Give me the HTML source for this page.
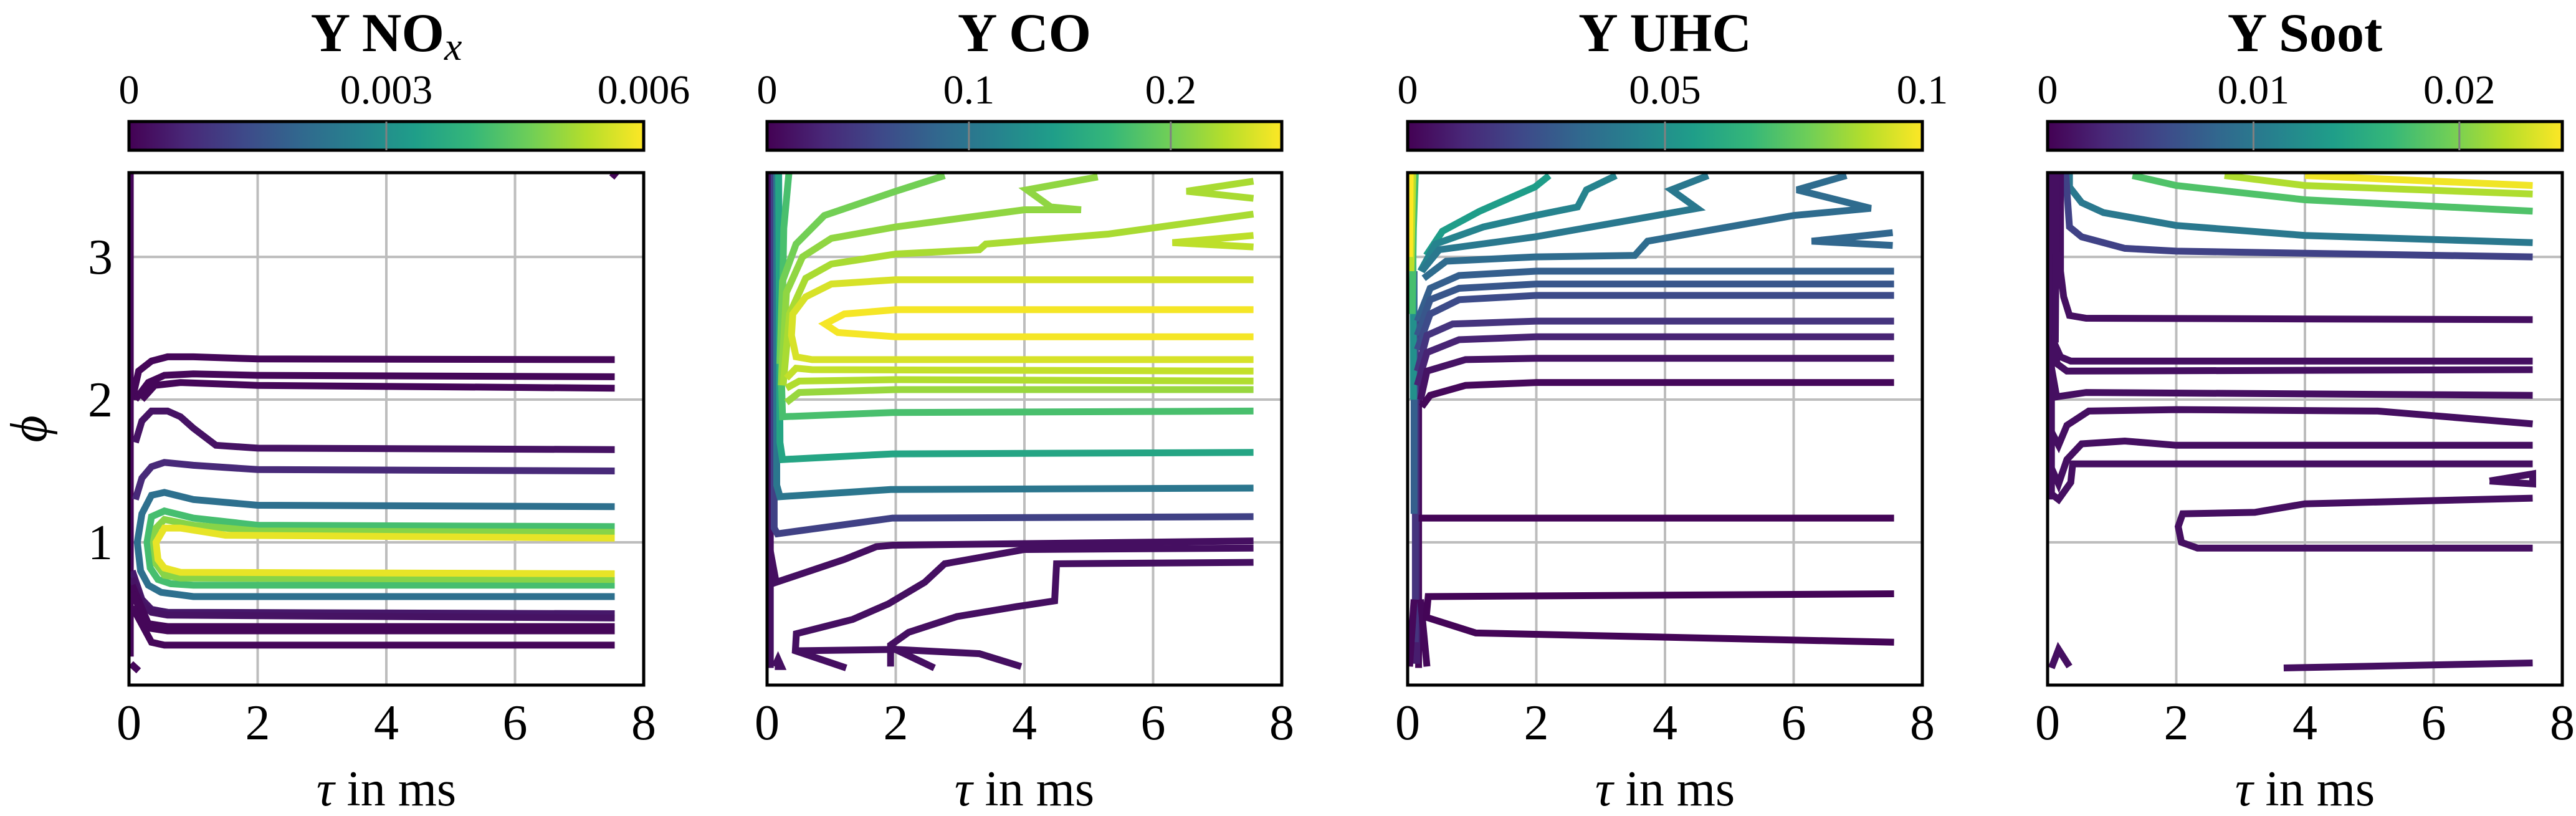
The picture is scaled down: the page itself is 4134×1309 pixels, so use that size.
<!DOCTYPE html>
<html><head><meta charset="utf-8"><style>
html,body{margin:0;padding:0;background:#fff}
svg{display:block}
text{font-family:"Liberation Serif",serif;fill:#000}
</style></head><body>
<svg id="chart" width="4134" height="1309" viewBox="0 0 4134 1309" xmlns="http://www.w3.org/2000/svg">
<defs id="defs"></defs>
</svg>
<script>
// ---------- data ----------
const panelTitles = ["Y NOx", "Y CO", "Y UHC", "Y Soot"];
const cbarMax = [0.006, 0.255, 0.1, 0.025];
const cbarTicks = [[0, 0.003, 0.006], [0, 0.1, 0.2], [0, 0.05, 0.1], [0, 0.01, 0.02]];
const cbarTickLabels = [["0", "0.003", "0.006"], ["0", "0.1", "0.2"], ["0", "0.05", "0.1"], ["0", "0.01", "0.02"]];
const xTicks = [0, 2, 4, 6, 8];
const yTicks = [1, 2, 3];

// NOx contours
const noxLevels = [0.0001,0.0001,0.0001,0.0001,0.0003,0.0007,0.0022,0.0042,0.0049,0.0058,0.0004,0.0003,0.0001,0.0001,0.0001,0.0001,0.0001];
const noxTau = [[0.02,0.02],[0.05,0.15,0.35,0.6,1,2,7.55],[0.1,0.3,0.55,1,2,7.55],[0.2,0.4,0.8,2,7.55],[0.1,0.2,0.35,0.6,0.8,1.0,1.35,2,7.55],[0.1,0.2,0.35,0.55,1,2,7.55],[7.55,2,1,0.55,0.35,0.2,0.13,0.18,0.3,0.5,1,7.55],[7.55,2,1,0.55,0.35,0.28,0.33,0.45,0.65,1,7.55],[7.55,2,1,0.55,0.42,0.38,0.42,0.55,0.8,7.55],[7.55,1.5,0.8,0.55,0.42,0.45,0.55,0.8,7.55],[0.05,0.2,0.35,0.6,7.55],[0.05,0.2,0.35,0.6,7.55],[0.05,0.3,0.6,7.55],[0.05,0.3,0.6,7.55],[0.05,0.35,0.55,7.55],[0.03,0.15],[7.5,7.58]];
const noxPhi = [[0.2,3.59],[2.0,2.2,2.27,2.3,2.3,2.285,2.28],[2.0,2.12,2.17,2.18,2.17,2.16],[2.0,2.1,2.12,2.1,2.08],[1.7,1.85,1.92,1.92,1.88,1.8,1.68,1.66,1.65],[1.3,1.45,1.53,1.56,1.54,1.51,1.50],[1.25,1.26,1.3,1.35,1.33,1.2,1.0,0.8,0.7,0.65,0.62,0.62],[1.11,1.12,1.17,1.22,1.18,1.0,0.82,0.74,0.71,0.70,0.70],[1.07,1.08,1.12,1.16,1.1,1.0,0.85,0.77,0.75,0.74],[1.03,1.05,1.1,1.1,1.0,0.88,0.82,0.79,0.78],[0.8,0.6,0.53,0.51,0.50],[0.75,0.57,0.51,0.49,0.47],[0.7,0.43,0.41,0.41],[0.65,0.4,0.38,0.38],[0.55,0.3,0.28,0.28],[0.15,0.1],[3.59,3.56]];

// CO contours
const coLevels = [0.01,0.05,0.1,0.15,0.18,0.2,0.212,0.222,0.222,0.23,0.24,0.252,0.232,0.225,0.215,0.01,0.01,0.01,0.01,0.01,0.01];
const coTau = [[0.05,0.05],[0.11,0.11,0.16,1.95,7.56],[0.15,0.15,0.2,1.92,7.56],[0.18,0.2,0.24,1.95,7.56],[0.34,0.26,0.22,0.24,1.95,7.56],[0.2,0.24,0.45,0.89,2,2.76],[0.22,0.3,0.55,1,2,4,4.88,4.41,4.04,5.14],[0.25,0.35,0.6,1,2,3.3,3.4,5.3,7.56],[7.56,6.52,7.56],[7.56,6.3,7.56],[7.56,2,1,0.6,0.4,0.38,0.45,0.7,7.56],[7.56,2,1.2,0.9,1.1,2,7.56],[0.3,0.45,0.7,7.56],[0.3,0.5,2,7.56],[0.3,0.5,2,7.56],[0.05,0.14,1.2,1.7,1.95,7.56],[7.56,4,2.76,2.45,1.89,1.33,0.455,0.44,1.23],[7.56,4.5,4.47,3.88,2.95,2.2,1.92,1.92],[1.95,2.6],[0.44,2,3.3,3.95],[0.12,0.17,0.22,0.12]];
const coPhi = [[3.59,0.12],[3.59,1.1,1.06,1.17,1.18],[3.59,1.4,1.32,1.37,1.38],[3.59,1.7,1.58,1.62,1.63],[3.59,3.2,2.2,1.88,1.91,1.92],[2.25,2.83,3.09,3.29,3.46,3.57],[2.1,2.75,3.0,3.13,3.21,3.33,3.33,3.35,3.47,3.56],[2.1,2.6,2.85,2.95,3.02,3.05,3.09,3.16,3.30],[3.53,3.46,3.41],[3.15,3.1,3.07],[2.84,2.84,2.81,2.72,2.6,2.45,2.3,2.28,2.28],[2.63,2.63,2.6,2.53,2.47,2.44,2.44],[2.15,2.22,2.21,2.2],[2.08,2.13,2.14,2.13],[1.98,2.05,2.07,2.07],[0.94,0.72,0.88,0.97,0.98,1.01],[0.96,0.95,0.85,0.72,0.57,0.46,0.36,0.24,0.12],[0.86,0.85,0.59,0.55,0.48,0.37,0.28,0.13],[0.26,0.12],[0.24,0.25,0.22,0.13],[0.13,0.18,0.13,0.13]];

// UHC contours
const uhcLevels = [0.002,0.008,0.015,0.03,0.05,0.07,0.09,0.1,0.002,0.002,0.055,0.045,0.04,0.035,0.033,0.03,0.027,0.023,0.015,0.01,0.005,0.002,0.001,0.001];
const uhcTau = [[0.17,0.17],[0.14,0.14],[0.12,0.12],[0.1,0.1],[0.09,0.08],[0.12,0.09,0.07],[0.08,0.05],[0.04,0.03],[0.03,0.1],[0.3,0.2],[0.29,0.54,1.12,1.98,2.2],[0.2,0.43,1.18,1.98,2.64,2.78,3.24],[0.22,0.49,1.98,4.5,4.1,4.67],[0.25,0.6,1.98,3.53,3.73,6,7.2,6.05,6.82],[7.54,6.28,7.54],[0.15,0.35,0.8,2,7.56],[0.15,0.35,0.8,2,7.56],[0.15,0.35,0.8,2,7.56],[0.15,0.3,0.7,2,7.56],[0.15,0.3,0.8,2,7.56],[0.2,0.3,0.9,2,7.56],[0.22,0.35,0.9,2,7.56],[0.17,7.56],[7.56,0.32,0.29,1.06,7.56]];
const uhcPhi = [[0.12,2.0],[0.15,2.3],[0.3,2.6],[1.2,2.9],[2.0,3.3],[3.59,3.2,2.6],[3.59,2.9],[3.59,3.0],[0.13,0.6],[0.13,0.6],[3.01,3.18,3.32,3.49,3.57],[2.9,3.09,3.21,3.29,3.35,3.47,3.57],[2.9,3.05,3.14,3.34,3.47,3.57],[2.85,2.97,3.0,3.01,3.11,3.29,3.34,3.47,3.57],[3.17,3.11,3.08],[2.55,2.78,2.87,2.9,2.9],[2.45,2.7,2.78,2.81,2.81],[2.35,2.6,2.7,2.73,2.73],[2.2,2.45,2.53,2.55,2.55],[2.1,2.33,2.42,2.44,2.44],[2.0,2.2,2.28,2.29,2.29],[1.95,2.03,2.1,2.12,2.12],[1.17,1.17],[0.64,0.62,0.475,0.365,0.30]];

// Soot contours
const sootLevels = [0.0245,0.022,0.018,0.01,0.005,0.001,0.001,0.001,0.001,0.001,0.001,0.001,0.001,0.001,0.001,0.001,0.001,0.001];
const sootTau = [[4,7.54],[2.75,4,7.54],[1.32,2,4,7.54],[0.34,0.34,0.53,0.87,2,4,7.54],[0.28,0.34,0.53,1.2,2,7.54],[0.2,0.2,0.25,0.34,0.6,7.54],[0.06,0.2,0.36,7.54],[0.06,0.15,0.3,7.54],[0.03,0.14,0.6,7.54],[0.03,0.17,0.3,0.64,2,5.13,7.54],[0.03,0.17,0.3,0.53,1.2,2,7.54],[0.03,0.17,0.36,0.39,7.54],[6.87,7.54,7.54,6.87],[7.54,4,3.22,2.1,2.03,2.08,2.33,7.54],[3.67,7.54],[0.06,0.17,0.34],[0.06,0.06],[0.12,0.14]];
const sootPhi = [[3.57,3.5],[3.57,3.5,3.44],[3.57,3.5,3.4,3.32],[3.59,3.49,3.38,3.31,3.22,3.15,3.1],[3.59,3.21,3.14,3.06,3.04,3.0],[3.59,2.9,2.72,2.59,2.57,2.56],[2.44,2.3,2.27,2.27],[2.45,2.25,2.2,2.21],[2.3,2.02,2.05,2.03],[1.8,1.68,1.82,1.92,1.93,1.92,1.83],[1.55,1.41,1.58,1.69,1.71,1.68,1.68],[1.35,1.3,1.42,1.55,1.55],[1.43,1.48,1.41,1.43],[1.31,1.27,1.21,1.2,1.11,1.0,0.96,0.96],[0.12,0.155],[0.12,0.25,0.13],[1.3,3.59],[2.4,3.59]];

const allLevels = [noxLevels, coLevels, uhcLevels, sootLevels];
const allTau = [noxTau, coTau, uhcTau, sootTau];
const allPhi = [noxPhi, coPhi, uhcPhi, sootPhi];

// ---------- layout ----------
const panelX = [207, 1231, 2259, 3286];
const PW = 826, PTOP = 277, PBOT = 1099, XMAX = 8, YMAX = 3.59;
const CB_TOP = 195, CB_H = 46;
const VIR = ["#440154","#482878","#3e4989","#31688e","#26828e","#1f9e89","#35b779","#6ece58","#b5de2b","#fde725"];

function hex2rgb(h){return [parseInt(h.slice(1,3),16),parseInt(h.slice(3,5),16),parseInt(h.slice(5,7),16)];}
function viridis(t){
  t=Math.max(0,Math.min(1,t));
  const s=t*(VIR.length-1), i=Math.min(VIR.length-2,Math.floor(s)), f=s-i;
  const a=hex2rgb(VIR[i]), b=hex2rgb(VIR[i+1]);
  return "rgb("+a.map((v,k)=>Math.round(v+(b[k]-v)*f)).join(",")+")";
}
const NS="http://www.w3.org/2000/svg";
const svg=document.getElementById("chart");
const defs=document.getElementById("defs");
function mk(tag, attrs, parent){
  const e=document.createElementNS(NS,tag);
  for(const k in attrs) e.setAttribute(k, attrs[k]);
  (parent||svg).appendChild(e);
  return e;
}

const grad=mk("linearGradient",{id:"vir",x1:"0",x2:"1",y1:"0",y2:"0"},defs);
VIR.forEach((c,i)=>mk("stop",{offset:(i/(VIR.length-1)).toString(),"stop-color":c},grad));

for(let p=0;p<4;p++){
  const x0=panelX[p];
  const xs=v=>x0+v/XMAX*PW;
  const ys=v=>PBOT-v/YMAX*(PBOT-PTOP);
  const g=mk("g",{});
  
  

  const t=mk("text",{x:x0+PW/2,y:82,"text-anchor":"middle","font-size":"88","font-weight":"bold"},g);
  
  
  if(p===0){
    t.textContent="Y NO";
    const ts=mk("tspan",{"font-style":"italic","font-weight":"normal","dy":"14","font-size":"64"},t);
    ts.textContent="x";
  } else t.textContent=panelTitles[p];

  const cb=mk("rect",{x:x0,y:CB_TOP,width:PW,height:CB_H,fill:"url(#vir)",stroke:"#000","stroke-width":"5"},g);
  
  
  cbarTicks[p].forEach((v,i)=>{
    const cx=x0+v/cbarMax[p]*PW;
    if(v>0 && v<cbarMax[p]){
      const tk=mk("line",{x1:cx,x2:cx,y1:CB_TOP,y2:CB_TOP+CB_H,stroke:"#808080","stroke-width":"3"},g);
      
      
    }
    const lb=mk("text",{x:cx,y:166,"text-anchor":"middle","font-size":"66"},g);
    
    
    lb.textContent=cbarTickLabels[p][i];
  });

  xTicks.forEach(v=>{
    if(v>0&&v<XMAX){
      const gl=mk("line",{x1:xs(v),x2:xs(v),y1:PTOP,y2:PBOT,stroke:"#bdbdbd","stroke-width":"4"},g);
      
      
    }
    const lb=mk("text",{x:xs(v),y:1186,"text-anchor":"middle","font-size":"80"},g);
    
    
    lb.textContent=String(v);
  });
  yTicks.forEach(v=>{
    const gl=mk("line",{x1:x0,x2:x0+PW,y1:ys(v),y2:ys(v),stroke:"#bdbdbd","stroke-width":"4"},g);
    
    
    if(p===0){
      const lb=mk("text",{x:x0-26,y:ys(v)+27,"text-anchor":"end","font-size":"80"},g);
      
      
      lb.textContent=String(v);
    }
  });

  const cp=mk("clipPath",{id:"clip"+p},defs);
  mk("rect",{x:x0,y:PTOP,width:PW,height:PBOT-PTOP},cp);
  const cg=mk("g",{"clip-path":"url(#clip"+p+")"},g);
  
  
  const lev=allLevels[p], tau=allTau[p], phi=allPhi[p];
  for(let i=0;i<lev.length;i++){
    const pts=tau[i].map((v,k)=>xs(v).toFixed(1)+","+ys(phi[i][k]).toFixed(1)).join(" ");
    const pl=mk("polyline",{points:pts,fill:"none",stroke:viridis(lev[i]/cbarMax[p]),"stroke-width":"11","stroke-linejoin":"miter","stroke-miterlimit":"3"},cg);
    
    
  }

  const fr=mk("rect",{x:x0,y:PTOP,width:PW,height:PBOT-PTOP,fill:"none",stroke:"#000","stroke-width":"5"},g);
  
  

  const xl=mk("text",{x:x0+PW/2,y:1292,"text-anchor":"middle","font-size":"80"},g);
  
  
  const tau_=mk("tspan",{"font-style":"italic"},xl); tau_.textContent="τ";
  const rest=mk("tspan",{},xl); rest.textContent=" in ms";
}
const yl=mk("text",{x:0,y:0,"text-anchor":"middle","font-size":"84","font-style":"italic",transform:"translate(74,688) rotate(-90)"});


yl.textContent="ϕ";
</script>
</body></html>
